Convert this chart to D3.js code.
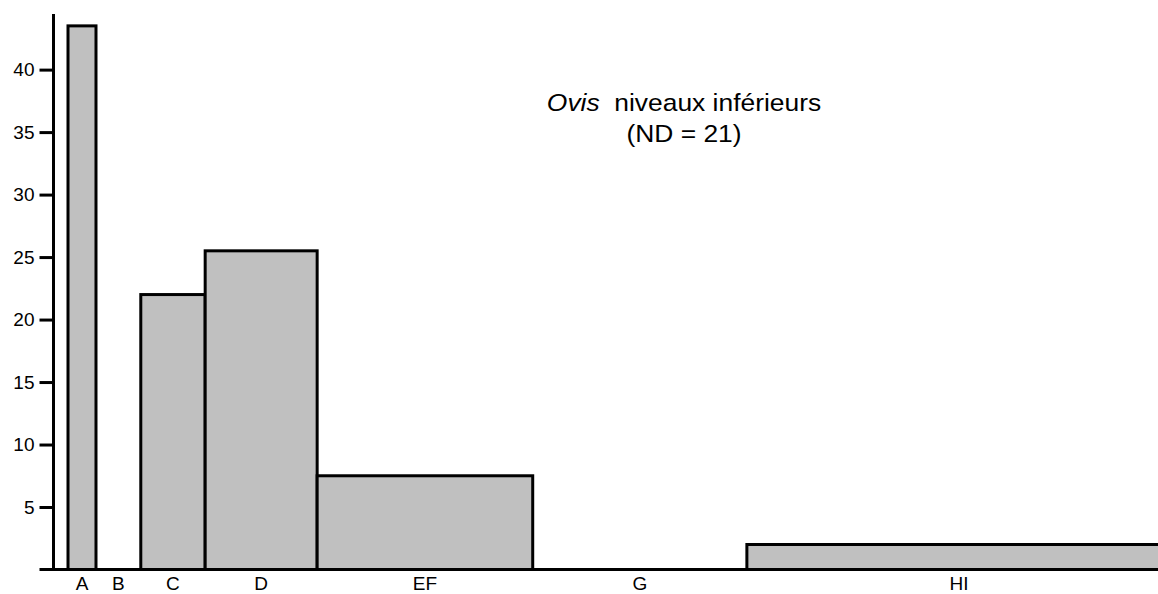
<!DOCTYPE html>
<html><head><meta charset="utf-8">
<script src="https://cdn.jsdelivr.net/npm/d3@7/dist/d3.min.js"></script>
<style>body{margin:0;background:#fff}svg{display:block}</style>
</head><body><svg id="c" width="1158" height="594"></svg>
<script>
// Data
const categories = ["A","B","C","D","EF","G","HI"];
const binStart   = [0, 2, 5.2, 9.8, 17.8, 33.2, 48.5];
const binEnd     = [2, 5.2, 9.8, 17.8, 33.2, 48.5, 78.8];
const values     = [43.5, 0, 22, 25.5, 7.5, 0, 2];
const yTicks     = [5,10,15,20,25,30,35,40];
const titleItalic = "Ovis";
const titleRest = " niveaux inférieurs";
const subtitle = "(ND = 21)";

const svg = d3.select("#c");
const font = "Liberation Sans, Arial, sans-serif";
const x = d3.scaleLinear().domain([0, 78.8]).range([68, 1171]);
const y = d3.scaleLinear().domain([0, 44.45]).range([569.5, 14]);
const axisX = 53.5;

// bars
const data = categories.map((c,i)=>({c, s:binStart[i], e:binEnd[i], v:values[i]}));
svg.append("g").selectAll("rect").data(data.filter(d=>d.v>0)).join("rect")
  .attr("x", d=>x(d.s)).attr("width", d=>x(d.e)-x(d.s))
  .attr("y", d=>y(d.v)).attr("height", d=>y(0)-y(d.v))
  .attr("fill","#c0c0c0").attr("stroke","#000").attr("stroke-width",3);

// y axis
const ya = svg.append("g").attr("transform",`translate(${axisX},0)`)
  .call(d3.axisLeft(y).tickValues(yTicks).tickSize(14).tickPadding(5).tickSizeOuter(0));
ya.select(".domain").remove();
ya.selectAll(".tick line").attr("stroke","#000").attr("stroke-width",3);
ya.selectAll(".tick text").attr("font-family",font).attr("font-size",19).attr("fill","#000");
svg.append("line").attr("x1",axisX).attr("x2",axisX).attr("y1",y.range()[1]).attr("y2",y(0)+1.5)
  .attr("stroke","#000").attr("stroke-width",3);

// x axis line
svg.append("line").attr("x1",axisX-14).attr("x2",1158).attr("y1",y(0)).attr("y2",y(0))
  .attr("stroke","#000").attr("stroke-width",3);

// x labels
svg.append("g").selectAll("text").data(data).join("text")
  .attr("x", d=>x((d.s+d.e)/2)).attr("y", 590)
  .attr("text-anchor","middle").attr("font-family",font).attr("font-size",19)
  .text(d=>d.c);

// title
const tg = svg.append("g").attr("transform","translate(684,0) scale(1.1,1)");
const t = tg.append("text").attr("x",0).attr("y",111).attr("text-anchor","middle")
  .attr("font-family",font).attr("font-size",24);
t.append("tspan").attr("font-style","italic").text(titleItalic);
t.append("tspan").text("\u00a0"+titleRest);
tg.append("text").attr("x",0).attr("y",142).attr("text-anchor","middle")
  .attr("font-family",font).attr("font-size",24).text(subtitle);
</script></body></html>
